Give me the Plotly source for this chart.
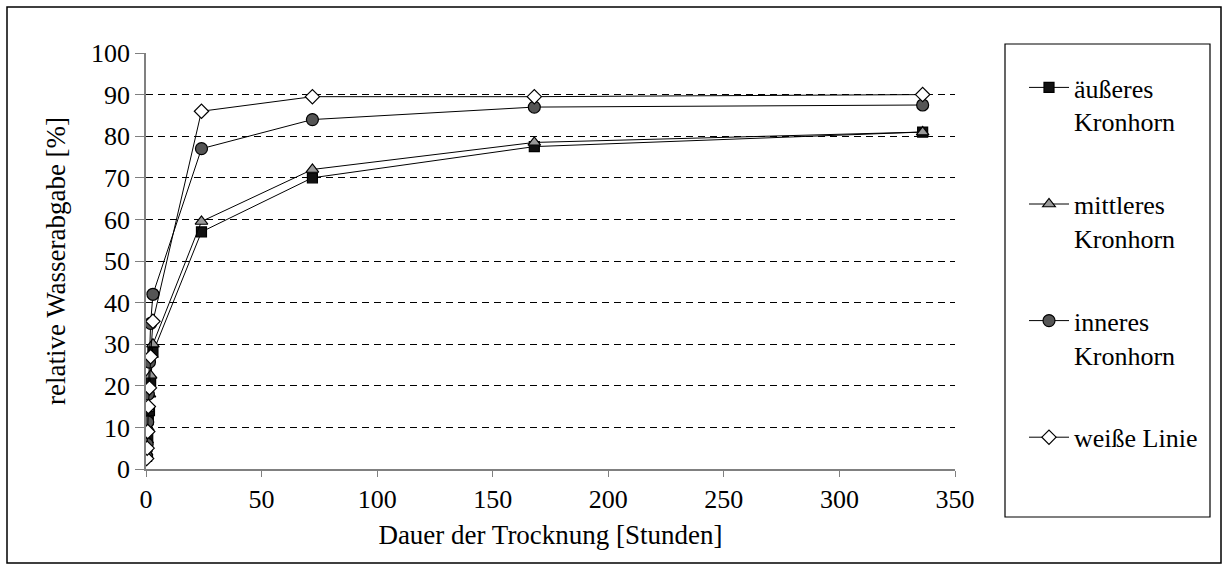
import plotly.graph_objects as go

# Drying time in hours and relative water loss in percent
stunden = [0.25, 0.5, 0.75, 1, 1.5, 2, 3, 24, 72, 168, 336]
aeusseres = [3, 5.5, 8, 12, 14, 21, 28, 57, 70, 77.5, 81]
mittleres = [4, 7, 10, 14.5, 18, 22.5, 30, 59.5, 72, 78.5, 81]
inneres = [3, 6, 11.3, 18, 25.7, 35, 42, 77, 84, 87, 87.5]
weisse = [2.5, 5, 9, 15, 19.5, 27, 35.5, 86, 89.5, 89.5, 90]

namen = ["äußeres<br>Kronhorn", "mittleres<br>Kronhorn", "inneres<br>Kronhorn", "weiße Linie"]
x_ticks = [0, 50, 100, 150, 200, 250, 300, 350]
y_ticks = [0, 10, 20, 30, 40, 50, 60, 70, 80, 90, 100]

FONT = "Liberation Serif"
SERIF = dict(family=FONT, size=26, color="black")

serien = [
    (aeusseres, "square", "#111111", 10),
    (mittleres, "triangle-up", "#999999", 11),
    (inneres, "circle", "#555555", 12),
    (weisse, "diamond", "#ffffff", 11),
]

fig = go.Figure()
for i, (werte, symbol, farbe, groesse) in enumerate(serien):
    fig.add_trace(go.Scatter(
        x=stunden, y=werte, name=namen[i], mode="lines+markers",
        legendgroup=f"g{i}",
        line=dict(color="black", width=1),
        marker=dict(symbol=symbol, size=groesse, color=farbe,
                    line=dict(color="black", width=1.2)),
    ))

# plot area in pixels
L, R, T, B = 146, 955, 53, 469
W, H = R - L, B - T


def px(x):
    return (x - L) / W


def py(y):
    return (B - y) / H


fig.update_layout(
    template="none",
    width=1223, height=564,
    margin=dict(l=L, r=1223 - R, t=T, b=564 - B),
    paper_bgcolor="white", plot_bgcolor="white",
    font=SERIF,
    showlegend=True,
    legend=dict(
        x=px(1024), y=py(64), xanchor="left", yanchor="top",
        font=SERIF,
        valign="top", tracegroupgap=46, itemwidth=40,
        bgcolor="rgba(0,0,0,0)", borderwidth=0,
    ),
    xaxis=dict(
        range=[0, 350], tickvals=x_ticks, ticks="outside", ticklen=6,
        tickcolor="#808080", showline=True, linecolor="#808080", linewidth=1.5,
        showgrid=False, zeroline=False,
        tickfont=SERIF,
        title=dict(text="Dauer der Trocknung [Stunden]",
                   font=dict(family=FONT, size=27, color="black"), standoff=12),
    ),
    yaxis=dict(
        range=[0, 100], tickvals=y_ticks, ticks="outside", ticklen=9,
        tickcolor="#808080", showline=True, linecolor="#808080", linewidth=1.5,
        showgrid=True, gridcolor="black", gridwidth=1, griddash="7px,5px",
        zeroline=False,
        tickfont=SERIF,
        title=dict(text="relative Wasserabgabe [%]",
                   font=dict(family=FONT, size=27, color="black"), standoff=18),
    ),
    shapes=[
        # outer chart frame
        dict(type="rect", xref="paper", yref="paper",
             x0=px(7), x1=px(1221), y0=py(563), y1=py(7),
             line=dict(color="black", width=1.5), fillcolor="rgba(0,0,0,0)",
             layer="below"),
        # legend frame
        dict(type="rect", xref="paper", yref="paper",
             x0=px(1005), x1=px(1210), y0=py(517), y1=py(44),
             line=dict(color="black", width=1.2), fillcolor="rgba(0,0,0,0)",
             layer="below"),
    ],
)

# Re-lay out every SVG label once the local serif font is available,
# so labels drawn before the font was resolved pick it up too.
refresh = r"""
var gd = document.getElementById('{plot_id}');
function refreshText() {
  var t = gd.querySelectorAll('text');
  for (var i = 0; i < t.length; i++) {
    var el = t[i];
    var c = el.cloneNode(true);
    el.parentNode.replaceChild(c, el);
    try { c.getBBox(); } catch (e) {}
  }
}
refreshText();
var pad = document.createElement('div');
pad.style.cssText = 'position:absolute;left:0;top:0;font:1px "Liberation Serif";color:#fff;pointer-events:none;';
pad.textContent = '\u00a0';
document.body.appendChild(pad);
if (document.fonts && document.fonts.ready) { document.fonts.ready.then(refreshText); }
requestAnimationFrame(function () { refreshText(); });
setTimeout(refreshText, 50);
"""

fig.write_html("out.html", post_script=refresh)
